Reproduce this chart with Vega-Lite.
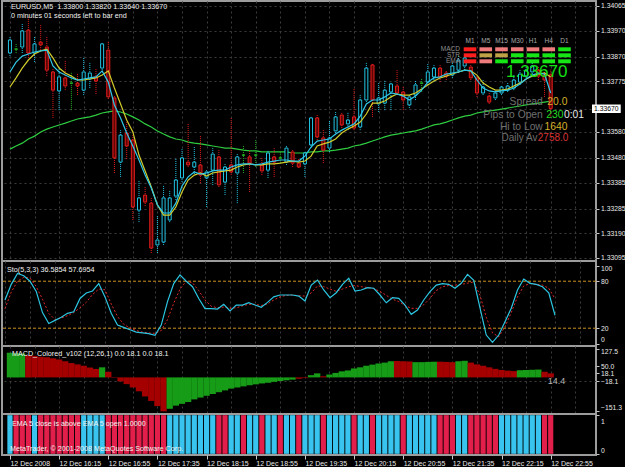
{
  "$schema": "https://vega.github.io/schema/vega-lite/v6.json",
  "background": "#000000",
  "padding": 0,
  "spacing": 0,
  "bounds": "flush",
  "config": {
    "view": {"stroke": "#9C9C9C", "strokeWidth": 2},
    "font": "Liberation Sans",
    "axis": {"labelFont": "Liberation Sans", "labelFontSize": 6.8, "labelColor": "#E8E8E8", "tickColor": "#C8C8C8", "tickWidth": 1, "domain": false, "labelFlush": false, "labelOverlap": false, "gridColor": "#3C3C3C", "gridDash": [2, 3], "gridWidth": 1},
    "text": {"font": "Liberation Sans"}
  },
  "datasets": {
    "bars": [
      {"t":"2008-12-12T15:35:00Z","open":1.33884,"high":1.33949,"low":1.33872,"close":1.33934,"emaFast":1.33811,"emaMid":1.33753,"maSlow":1.33514,"stoK":56,"stoD":45,"macd":110,"macdDir":"up","above":1},
      {"t":"2008-12-12T15:40:00Z","open":1.33899,"high":1.33922,"low":1.33884,"close":1.33899,"emaFast":1.33849,"emaMid":1.33788,"maSlow":1.33526,"stoK":76,"stoD":66,"macd":108,"macdDir":"up","above":0},
      {"t":"2008-12-12T15:45:00Z","open":1.33907,"high":1.33999,"low":1.33884,"close":1.33969,"emaFast":1.33872,"emaMid":1.33826,"maSlow":1.33537,"stoK":90,"stoD":80,"macd":106,"macdDir":"up","above":0},
      {"t":"2008-12-12T15:50:00Z","open":1.33972,"high":1.34023,"low":1.33865,"close":1.33884,"emaFast":1.33880,"emaMid":1.33857,"maSlow":1.33553,"stoK":87,"stoD":85,"macd":99,"macdDir":"dn","above":0},
      {"t":"2008-12-12T15:55:00Z","open":1.33884,"high":1.33946,"low":1.33849,"close":1.33919,"emaFast":1.33888,"emaMid":1.33880,"maSlow":1.33564,"stoK":80,"stoD":84,"macd":96,"macdDir":"dn","above":1},
      {"t":"2008-12-12T16:00:00Z","open":1.33926,"high":1.33992,"low":1.33895,"close":1.33915,"emaFast":1.33892,"emaMid":1.33892,"maSlow":1.33580,"stoK":67,"stoD":73,"macd":92,"macdDir":"dn","above":0},
      {"t":"2008-12-12T16:05:00Z","open":1.33907,"high":1.33949,"low":1.33795,"close":1.33818,"emaFast":1.33895,"emaMid":1.33899,"maSlow":1.33591,"stoK":40,"stoD":57,"macd":90,"macdDir":"dn","above":0},
      {"t":"2008-12-12T16:10:00Z","open":1.33811,"high":1.33826,"low":1.33634,"close":1.33741,"emaFast":1.33834,"emaMid":1.33865,"maSlow":1.33599,"stoK":26,"stoD":39,"macd":85,"macdDir":"dn","above":0},
      {"t":"2008-12-12T16:15:00Z","open":1.33738,"high":1.33826,"low":1.33664,"close":1.33792,"emaFast":1.33811,"emaMid":1.33826,"maSlow":1.33607,"stoK":30,"stoD":31,"macd":80,"macdDir":"dn","above":0},
      {"t":"2008-12-12T16:20:00Z","open":1.33788,"high":1.33857,"low":1.33741,"close":1.33757,"emaFast":1.33799,"emaMid":1.33807,"maSlow":1.33614,"stoK":34,"stoD":33,"macd":72,"macdDir":"dn","above":0},
      {"t":"2008-12-12T16:25:00Z","open":1.33768,"high":1.33811,"low":1.33664,"close":1.33768,"emaFast":1.33788,"emaMid":1.33795,"maSlow":1.33622,"stoK":39,"stoD":36,"macd":64,"macdDir":"dn","above":0},
      {"t":"2008-12-12T16:30:00Z","open":1.33768,"high":1.33807,"low":1.33722,"close":1.33757,"emaFast":1.33780,"emaMid":1.33780,"maSlow":1.33630,"stoK":41,"stoD":40,"macd":58,"macdDir":"dn","above":0},
      {"t":"2008-12-12T16:35:00Z","open":1.33741,"high":1.33869,"low":1.33722,"close":1.33811,"emaFast":1.33784,"emaMid":1.33780,"maSlow":1.33634,"stoK":58,"stoD":46,"macd":52,"macdDir":"dn","above":1},
      {"t":"2008-12-12T16:40:00Z","open":1.33784,"high":1.33845,"low":1.33749,"close":1.33807,"emaFast":1.33788,"emaMid":1.33784,"maSlow":1.33638,"stoK":65,"stoD":53,"macd":44,"macdDir":"dn","above":1},
      {"t":"2008-12-12T16:45:00Z","open":1.33792,"high":1.33826,"low":1.33726,"close":1.33776,"emaFast":1.33792,"emaMid":1.33788,"maSlow":1.33645,"stoK":67.5,"stoD":63,"macd":38,"macdDir":"dn","above":1},
      {"t":"2008-12-12T16:50:00Z","open":1.33826,"high":1.33926,"low":1.33811,"close":1.33919,"emaFast":1.33815,"emaMid":1.33799,"maSlow":1.33653,"stoK":77,"stoD":70,"macd":45,"macdDir":"up","above":1},
      {"t":"2008-12-12T16:55:00Z","open":1.33895,"high":1.33930,"low":1.33707,"close":1.33715,"emaFast":1.33772,"emaMid":1.33815,"maSlow":1.33657,"stoK":60,"stoD":69,"macd":25,"macdDir":"dn","above":0},
      {"t":"2008-12-12T17:00:00Z","open":1.33711,"high":1.33718,"low":1.33422,"close":1.33480,"emaFast":1.33684,"emaMid":1.33749,"maSlow":1.33661,"stoK":39,"stoD":51,"macd":-2,"macdDir":"dn","above":0},
      {"t":"2008-12-12T17:05:00Z","open":1.33464,"high":1.33587,"low":1.33407,"close":1.33568,"emaFast":1.33634,"emaMid":1.33688,"maSlow":1.33657,"stoK":24,"stoD":35,"macd":-18,"macdDir":"dn","above":0},
      {"t":"2008-12-12T17:10:00Z","open":1.33576,"high":1.33618,"low":1.33476,"close":1.33526,"emaFast":1.33576,"emaMid":1.33626,"maSlow":1.33649,"stoK":21,"stoD":25,"macd":-30,"macdDir":"dn","above":0},
      {"t":"2008-12-12T17:15:00Z","open":1.33549,"high":1.33568,"low":1.33241,"close":1.33291,"emaFast":1.33526,"emaMid":1.33580,"maSlow":1.33638,"stoK":18,"stoD":20,"macd":-45,"macdDir":"dn","above":0},
      {"t":"2008-12-12T17:20:00Z","open":1.33279,"high":1.33395,"low":1.33233,"close":1.33326,"emaFast":1.33472,"emaMid":1.33491,"maSlow":1.33626,"stoK":15,"stoD":17,"macd":-62,"macdDir":"dn","above":0},
      {"t":"2008-12-12T17:25:00Z","open":1.33337,"high":1.33368,"low":1.33295,"close":1.33310,"emaFast":1.33414,"emaMid":1.33430,"maSlow":1.33611,"stoK":14,"stoD":15,"macd":-85,"macdDir":"dn","above":0},
      {"t":"2008-12-12T17:30:00Z","open":1.33306,"high":1.33326,"low":1.33114,"close":1.33133,"emaFast":1.33364,"emaMid":1.33368,"maSlow":1.33599,"stoK":13,"stoD":14,"macd":-105,"macdDir":"dn","above":0},
      {"t":"2008-12-12T17:35:00Z","open":1.33145,"high":1.33260,"low":1.33114,"close":1.33164,"emaFast":1.33299,"emaMid":1.33299,"maSlow":1.33584,"stoK":11,"stoD":13.5,"macd":-128,"macdDir":"dn","above":0},
      {"t":"2008-12-12T17:40:00Z","open":1.33156,"high":1.33376,"low":1.33145,"close":1.33326,"emaFast":1.33268,"emaMid":1.33260,"maSlow":1.33572,"stoK":24,"stoD":17,"macd":-151.3,"macdDir":"dn","above":0},
      {"t":"2008-12-12T17:45:00Z","open":1.33241,"high":1.33356,"low":1.33233,"close":1.33326,"emaFast":1.33268,"emaMid":1.33260,"maSlow":1.33561,"stoK":54,"stoD":31,"macd":-140,"macdDir":"up","above":1},
      {"t":"2008-12-12T17:50:00Z","open":1.33333,"high":1.33480,"low":1.33318,"close":1.33395,"emaFast":1.33306,"emaMid":1.33291,"maSlow":1.33553,"stoK":77,"stoD":52,"macd":-126,"macdDir":"up","above":1},
      {"t":"2008-12-12T17:55:00Z","open":1.33403,"high":1.33518,"low":1.33387,"close":1.33480,"emaFast":1.33372,"emaMid":1.33349,"maSlow":1.33549,"stoK":88,"stoD":70,"macd":-118,"macdDir":"up","above":1},
      {"t":"2008-12-12T18:00:00Z","open":1.33464,"high":1.33614,"low":1.33445,"close":1.33453,"emaFast":1.33407,"emaMid":1.33395,"maSlow":1.33541,"stoK":80,"stoD":80,"macd":-110,"macdDir":"up","above":1},
      {"t":"2008-12-12T18:05:00Z","open":1.33445,"high":1.33522,"low":1.33418,"close":1.33464,"emaFast":1.33426,"emaMid":1.33414,"maSlow":1.33537,"stoK":73,"stoD":78,"macd":-98,"macdDir":"up","above":1},
      {"t":"2008-12-12T18:10:00Z","open":1.33453,"high":1.33568,"low":1.33383,"close":1.33414,"emaFast":1.33418,"emaMid":1.33422,"maSlow":1.33534,"stoK":58,"stoD":68,"macd":-90,"macdDir":"up","above":1},
      {"t":"2008-12-12T18:15:00Z","open":1.33403,"high":1.33433,"low":1.33291,"close":1.33426,"emaFast":1.33422,"emaMid":1.33410,"maSlow":1.33530,"stoK":45,"stoD":56,"macd":-82,"macdDir":"up","above":1},
      {"t":"2008-12-12T18:20:00Z","open":1.33433,"high":1.33518,"low":1.33376,"close":1.33495,"emaFast":1.33430,"emaMid":1.33422,"maSlow":1.33526,"stoK":45,"stoD":48,"macd":-74,"macdDir":"up","above":1},
      {"t":"2008-12-12T18:25:00Z","open":1.33484,"high":1.33510,"low":1.33368,"close":1.33376,"emaFast":1.33433,"emaMid":1.33426,"maSlow":1.33522,"stoK":44.5,"stoD":46,"macd":-66,"macdDir":"up","above":0},
      {"t":"2008-12-12T18:30:00Z","open":1.33387,"high":1.33460,"low":1.33337,"close":1.33445,"emaFast":1.33433,"emaMid":1.33430,"maSlow":1.33518,"stoK":50.5,"stoD":47,"macd":-58,"macdDir":"up","above":0},
      {"t":"2008-12-12T18:35:00Z","open":1.33453,"high":1.33634,"low":1.33414,"close":1.33426,"emaFast":1.33445,"emaMid":1.33433,"maSlow":1.33518,"stoK":42,"stoD":45.5,"macd":-50,"macdDir":"up","above":1},
      {"t":"2008-12-12T18:40:00Z","open":1.33422,"high":1.33495,"low":1.33306,"close":1.33484,"emaFast":1.33453,"emaMid":1.33445,"maSlow":1.33514,"stoK":49.6,"stoD":46,"macd":-45,"macdDir":"up","above":1},
      {"t":"2008-12-12T18:45:00Z","open":1.33491,"high":1.33530,"low":1.33422,"close":1.33491,"emaFast":1.33457,"emaMid":1.33453,"maSlow":1.33510,"stoK":49.6,"stoD":48.5,"macd":-40,"macdDir":"up","above":0},
      {"t":"2008-12-12T18:50:00Z","open":1.33484,"high":1.33510,"low":1.33349,"close":1.33460,"emaFast":1.33457,"emaMid":1.33457,"maSlow":1.33507,"stoK":52.5,"stoD":50.5,"macd":-35,"macdDir":"up","above":1},
      {"t":"2008-12-12T18:55:00Z","open":1.33491,"high":1.33549,"low":1.33445,"close":1.33491,"emaFast":1.33453,"emaMid":1.33453,"maSlow":1.33507,"stoK":49.6,"stoD":50.5,"macd":-31,"macdDir":"up","above":1},
      {"t":"2008-12-12T19:00:00Z","open":1.33453,"high":1.33484,"low":1.33414,"close":1.33430,"emaFast":1.33457,"emaMid":1.33453,"maSlow":1.33503,"stoK":46.7,"stoD":49,"macd":-27,"macdDir":"up","above":0},
      {"t":"2008-12-12T19:05:00Z","open":1.33433,"high":1.33507,"low":1.33403,"close":1.33499,"emaFast":1.33464,"emaMid":1.33457,"maSlow":1.33503,"stoK":53,"stoD":51,"macd":-24,"macdDir":"up","above":1},
      {"t":"2008-12-12T19:10:00Z","open":1.33484,"high":1.33518,"low":1.33407,"close":1.33464,"emaFast":1.33468,"emaMid":1.33457,"maSlow":1.33503,"stoK":60,"stoD":56,"macd":-20,"macdDir":"up","above":1},
      {"t":"2008-12-12T19:15:00Z","open":1.33480,"high":1.33503,"low":1.33460,"close":1.33480,"emaFast":1.33472,"emaMid":1.33460,"maSlow":1.33503,"stoK":62.4,"stoD":60,"macd":-16,"macdDir":"up","above":0},
      {"t":"2008-12-12T19:20:00Z","open":1.33464,"high":1.33526,"low":1.33453,"close":1.33518,"emaFast":1.33472,"emaMid":1.33464,"maSlow":1.33503,"stoK":62.4,"stoD":62,"macd":-13,"macdDir":"up","above":1},
      {"t":"2008-12-12T19:25:00Z","open":1.33503,"high":1.33510,"low":1.33445,"close":1.33460,"emaFast":1.33468,"emaMid":1.33468,"maSlow":1.33499,"stoK":62.4,"stoD":62.4,"macd":-10,"macdDir":"up","above":1},
      {"t":"2008-12-12T19:30:00Z","open":1.33460,"high":1.33480,"low":1.33441,"close":1.33445,"emaFast":1.33468,"emaMid":1.33464,"maSlow":1.33499,"stoK":61,"stoD":61.5,"macd":-6,"macdDir":"dn","above":0},
      {"t":"2008-12-12T19:35:00Z","open":1.33457,"high":1.33507,"low":1.33407,"close":1.33499,"emaFast":1.33487,"emaMid":1.33468,"maSlow":1.33499,"stoK":54.7,"stoD":61,"macd":-3,"macdDir":"dn","above":1},
      {"t":"2008-12-12T19:40:00Z","open":1.33530,"high":1.33638,"low":1.33518,"close":1.33634,"emaFast":1.33522,"emaMid":1.33487,"maSlow":1.33503,"stoK":75,"stoD":65,"macd":10,"macdDir":"up","above":1},
      {"t":"2008-12-12T19:45:00Z","open":1.33634,"high":1.33645,"low":1.33549,"close":1.33561,"emaFast":1.33545,"emaMid":1.33526,"maSlow":1.33503,"stoK":81.5,"stoD":74,"macd":18,"macdDir":"up","above":1},
      {"t":"2008-12-12T19:50:00Z","open":1.33557,"high":1.33587,"low":1.33460,"close":1.33510,"emaFast":1.33549,"emaMid":1.33534,"maSlow":1.33507,"stoK":68.8,"stoD":73,"macd":5,"macdDir":"dn","above":0},
      {"t":"2008-12-12T19:55:00Z","open":1.33518,"high":1.33626,"low":1.33503,"close":1.33557,"emaFast":1.33553,"emaMid":1.33541,"maSlow":1.33507,"stoK":59,"stoD":70,"macd":13,"macdDir":"up","above":1},
      {"t":"2008-12-12T20:00:00Z","open":1.33584,"high":1.33657,"low":1.33568,"close":1.33638,"emaFast":1.33572,"emaMid":1.33553,"maSlow":1.33510,"stoK":65.3,"stoD":67,"macd":20,"macdDir":"up","above":1},
      {"t":"2008-12-12T20:05:00Z","open":1.33645,"high":1.33657,"low":1.33595,"close":1.33607,"emaFast":1.33587,"emaMid":1.33576,"maSlow":1.33514,"stoK":76,"stoD":70,"macd":27,"macdDir":"up","above":1},
      {"t":"2008-12-12T20:10:00Z","open":1.33611,"high":1.33657,"low":1.33587,"close":1.33626,"emaFast":1.33599,"emaMid":1.33591,"maSlow":1.33518,"stoK":83.7,"stoD":73,"macd":31,"macdDir":"up","above":1},
      {"t":"2008-12-12T20:15:00Z","open":1.33638,"high":1.33745,"low":1.33587,"close":1.33595,"emaFast":1.33611,"emaMid":1.33603,"maSlow":1.33526,"stoK":67.5,"stoD":74.5,"macd":40,"macdDir":"up","above":0},
      {"t":"2008-12-12T20:20:00Z","open":1.33599,"high":1.33722,"low":1.33587,"close":1.33703,"emaFast":1.33641,"emaMid":1.33618,"maSlow":1.33530,"stoK":68.8,"stoD":73,"macd":45,"macdDir":"up","above":1},
      {"t":"2008-12-12T20:25:00Z","open":1.33703,"high":1.33845,"low":1.33695,"close":1.33826,"emaFast":1.33688,"emaMid":1.33649,"maSlow":1.33537,"stoK":71.7,"stoD":72,"macd":52,"macdDir":"up","above":1},
      {"t":"2008-12-12T20:30:00Z","open":1.33838,"high":1.33845,"low":1.33638,"close":1.33703,"emaFast":1.33703,"emaMid":1.33691,"maSlow":1.33545,"stoK":71,"stoD":70.5,"macd":57,"macdDir":"up","above":0},
      {"t":"2008-12-12T20:35:00Z","open":1.33688,"high":1.33768,"low":1.33657,"close":1.33711,"emaFast":1.33703,"emaMid":1.33691,"maSlow":1.33553,"stoK":62.4,"stoD":67,"macd":62,"macdDir":"up","above":1},
      {"t":"2008-12-12T20:40:00Z","open":1.33691,"high":1.33780,"low":1.33664,"close":1.33741,"emaFast":1.33715,"emaMid":1.33699,"maSlow":1.33561,"stoK":52.5,"stoD":62,"macd":66,"macdDir":"up","above":1},
      {"t":"2008-12-12T20:45:00Z","open":1.33734,"high":1.33772,"low":1.33664,"close":1.33765,"emaFast":1.33730,"emaMid":1.33715,"maSlow":1.33568,"stoK":59,"stoD":57,"macd":72,"macdDir":"up","above":1},
      {"t":"2008-12-12T20:50:00Z","open":1.33757,"high":1.33818,"low":1.33722,"close":1.33730,"emaFast":1.33726,"emaMid":1.33726,"maSlow":1.33572,"stoK":58.2,"stoD":54,"macd":73,"macdDir":"dn","above":1},
      {"t":"2008-12-12T20:55:00Z","open":1.33734,"high":1.33757,"low":1.33664,"close":1.33703,"emaFast":1.33718,"emaMid":1.33722,"maSlow":1.33576,"stoK":49.6,"stoD":49,"macd":72,"macdDir":"dn","above":0},
      {"t":"2008-12-12T21:00:00Z","open":1.33684,"high":1.33722,"low":1.33672,"close":1.33715,"emaFast":1.33703,"emaMid":1.33722,"maSlow":1.33580,"stoK":37.7,"stoD":45.4,"macd":71,"macdDir":"dn","above":1},
      {"t":"2008-12-12T21:05:00Z","open":1.33722,"high":1.33780,"low":1.33703,"close":1.33761,"emaFast":1.33718,"emaMid":1.33730,"maSlow":1.33584,"stoK":43.2,"stoD":45.4,"macd":68,"macdDir":"up","above":1},
      {"t":"2008-12-12T21:10:00Z","open":1.33768,"high":1.33788,"low":1.33734,"close":1.33768,"emaFast":1.33741,"emaMid":1.33745,"maSlow":1.33591,"stoK":56,"stoD":50,"macd":68,"macdDir":"up","above":1},
      {"t":"2008-12-12T21:15:00Z","open":1.33772,"high":1.33845,"low":1.33761,"close":1.33811,"emaFast":1.33772,"emaMid":1.33761,"maSlow":1.33599,"stoK":66.6,"stoD":58,"macd":69,"macdDir":"up","above":1},
      {"t":"2008-12-12T21:20:00Z","open":1.33792,"high":1.33838,"low":1.33772,"close":1.33826,"emaFast":1.33788,"emaMid":1.33776,"maSlow":1.33607,"stoK":75,"stoD":68,"macd":70,"macdDir":"up","above":1},
      {"t":"2008-12-12T21:25:00Z","open":1.33826,"high":1.33838,"low":1.33772,"close":1.33792,"emaFast":1.33792,"emaMid":1.33788,"maSlow":1.33611,"stoK":76.8,"stoD":73,"macd":70,"macdDir":"dn","above":0},
      {"t":"2008-12-12T21:30:00Z","open":1.33807,"high":1.33818,"low":1.33780,"close":1.33795,"emaFast":1.33803,"emaMid":1.33795,"maSlow":1.33618,"stoK":76,"stoD":74.5,"macd":69,"macdDir":"dn","above":0},
      {"t":"2008-12-12T21:35:00Z","open":1.33799,"high":1.33849,"low":1.33788,"close":1.33834,"emaFast":1.33807,"emaMid":1.33803,"maSlow":1.33626,"stoK":71,"stoD":75,"macd":68,"macdDir":"dn","above":0},
      {"t":"2008-12-12T21:40:00Z","open":1.33818,"high":1.33876,"low":1.33807,"close":1.33857,"emaFast":1.33811,"emaMid":1.33811,"maSlow":1.33634,"stoK":77.3,"stoD":76,"macd":72,"macdDir":"up","above":1},
      {"t":"2008-12-12T21:45:00Z","open":1.33834,"high":1.33876,"low":1.33818,"close":1.33865,"emaFast":1.33818,"emaMid":1.33818,"maSlow":1.33641,"stoK":88.8,"stoD":77.5,"macd":74,"macdDir":"up","above":1},
      {"t":"2008-12-12T21:50:00Z","open":1.33830,"high":1.33842,"low":1.33780,"close":1.33788,"emaFast":1.33815,"emaMid":1.33815,"maSlow":1.33645,"stoK":81,"stoD":79,"macd":66,"macdDir":"dn","above":0},
      {"t":"2008-12-12T21:55:00Z","open":1.33788,"high":1.33795,"low":1.33715,"close":1.33730,"emaFast":1.33780,"emaMid":1.33799,"maSlow":1.33653,"stoK":46,"stoD":62,"macd":58,"macdDir":"dn","above":0},
      {"t":"2008-12-12T22:00:00Z","open":1.33730,"high":1.33780,"low":1.33722,"close":1.33753,"emaFast":1.33749,"emaMid":1.33768,"maSlow":1.33657,"stoK":11.3,"stoD":34,"macd":52,"macdDir":"dn","above":0},
      {"t":"2008-12-12T22:05:00Z","open":1.33718,"high":1.33730,"low":1.33688,"close":1.33695,"emaFast":1.33738,"emaMid":1.33753,"maSlow":1.33661,"stoK":2,"stoD":14,"macd":45,"macdDir":"dn","above":0},
      {"t":"2008-12-12T22:10:00Z","open":1.33711,"high":1.33741,"low":1.33703,"close":1.33730,"emaFast":1.33734,"emaMid":1.33741,"maSlow":1.33664,"stoK":11.3,"stoD":9,"macd":38,"macdDir":"dn","above":0},
      {"t":"2008-12-12T22:15:00Z","open":1.33730,"high":1.33761,"low":1.33722,"close":1.33753,"emaFast":1.33738,"emaMid":1.33741,"maSlow":1.33668,"stoK":28.3,"stoD":22,"macd":33,"macdDir":"dn","above":1},
      {"t":"2008-12-12T22:20:00Z","open":1.33741,"high":1.33772,"low":1.33734,"close":1.33757,"emaFast":1.33741,"emaMid":1.33745,"maSlow":1.33672,"stoK":45.4,"stoD":40,"macd":30,"macdDir":"dn","above":1},
      {"t":"2008-12-12T22:25:00Z","open":1.33749,"high":1.33799,"low":1.33741,"close":1.33780,"emaFast":1.33749,"emaMid":1.33757,"maSlow":1.33676,"stoK":68.8,"stoD":60,"macd":28,"macdDir":"dn","above":1},
      {"t":"2008-12-12T22:30:00Z","open":1.33772,"high":1.33818,"low":1.33761,"close":1.33803,"emaFast":1.33765,"emaMid":1.33768,"maSlow":1.33680,"stoK":82.8,"stoD":74,"macd":32,"macdDir":"up","above":1},
      {"t":"2008-12-12T22:35:00Z","open":1.33795,"high":1.33834,"low":1.33788,"close":1.33818,"emaFast":1.33784,"emaMid":1.33784,"maSlow":1.33684,"stoK":77.3,"stoD":77,"macd":33,"macdDir":"up","above":1},
      {"t":"2008-12-12T22:40:00Z","open":1.33811,"high":1.33849,"low":1.33803,"close":1.33834,"emaFast":1.33799,"emaMid":1.33795,"maSlow":1.33688,"stoK":76,"stoD":76,"macd":34,"macdDir":"up","above":1},
      {"t":"2008-12-12T22:45:00Z","open":1.33818,"high":1.33834,"low":1.33780,"close":1.33795,"emaFast":1.33807,"emaMid":1.33803,"maSlow":1.33691,"stoK":73,"stoD":75,"macd":35,"macdDir":"up","above":1},
      {"t":"2008-12-12T22:50:00Z","open":1.33799,"high":1.33811,"low":1.33715,"close":1.33780,"emaFast":1.33803,"emaMid":1.33807,"maSlow":1.33695,"stoK":65.3,"stoD":71,"macd":25,"macdDir":"dn","above":0},
      {"t":"2008-12-12T22:55:00Z","open":1.33800,"high":1.33820,"low":1.33640,"close":1.33670,"emaFast":1.33730,"emaMid":1.33792,"maSlow":1.33699,"stoK":36.5854,"stoD":57.6954,"macd":18.1,"macdDir":"dn","above":0}
    ],
    "dash": [
      {"tf":"M1","ind":"MACD","st":"strongdn"},{"tf":"M5","ind":"MACD","st":"dn"},{"tf":"M15","ind":"MACD","st":"dn"},{"tf":"M30","ind":"MACD","st":"dn"},{"tf":"H1","ind":"MACD","st":"dn"},{"tf":"H4","ind":"MACD","st":"dn"},{"tf":"D1","ind":"MACD","st":"up"},
      {"tf":"M1","ind":"STR","st":"strongdn"},{"tf":"M5","ind":"STR","st":"flat"},{"tf":"M15","ind":"STR","st":"flat"},{"tf":"M30","ind":"STR","st":"up"},{"tf":"H1","ind":"STR","st":"up"},{"tf":"H4","ind":"STR","st":"up"},{"tf":"D1","ind":"STR","st":"up"},
      {"tf":"M1","ind":"EMA","st":"strongdn"},{"tf":"M5","ind":"EMA","st":"dn"},{"tf":"M15","ind":"EMA","st":"up"},{"tf":"M30","ind":"EMA","st":"up"},{"tf":"H1","ind":"EMA","st":"up"},{"tf":"H4","ind":"EMA","st":"up"},{"tf":"D1","ind":"EMA","st":"up"}
    ]
  },
  "resolve": {"scale": {"x": "independent", "y": "independent"}},
  "vconcat": [
    {
      "width": 594,
      "height": 260,
      "resolve": {"scale": {"x": "independent", "y": "independent"}},
      "layer": [
        {
          "layer": [
            {"data": {"name": "bars"}, "mark": {"type": "line", "stroke": "#2ECC40", "strokeWidth": 1.2},
             "encoding": {"x": {"field": "t", "type": "temporal", "scale": {"type": "utc", "domain": [1229095956000, 1229124468000], "nice": false},
                                "axis": {"title": null, "values": [1229096100000,1229097300000,1229098500000,1229099700000,1229100900000,1229102100000,1229103300000,1229104500000,1229105700000,1229106900000,1229108100000,1229109300000,1229110500000,1229111700000,1229112900000,1229114100000,1229115300000,1229116500000,1229117700000,1229118900000,1229120100000,1229121300000,1229122500000,1229123700000], "tickCount": 100, "labels": false, "ticks": false, "grid": true}},
                          "y": {"field": "maSlow", "type": "quantitative", "scale": {"domain": [1.330832, 1.340842], "nice": false, "zero": false},
                                "axis": {"orient": "right", "title": null, "values": [1.34065, 1.3397, 1.3387, 1.33775, 1.3367, 1.3358, 1.3348, 1.33385, 1.33285, 1.3319, 1.33095], "tickCount": 50, "grid": true, "tickSize": 3, "labelPadding": 1.5, "labelOverlap": false,
                                         "labelExpr": "datum.value == 1.3367 ? '' : format(datum.value, '.5f')"}}}},
            {"data": {"name": "bars"}, "mark": {"type": "rule", "strokeWidth": 1, "strokeDash": [1, 1]},
             "encoding": {"x": {"field": "t", "type": "temporal"}, "y": {"field": "low", "type": "quantitative"}, "y2": {"field": "high"},
                          "stroke": {"condition": [{"test": "datum.close > datum.open", "value": "#22C4E4"}, {"test": "datum.close < datum.open", "value": "#E81C1C"}], "value": "#22B422"}}},
            {"data": {"name": "bars"}, "mark": {"type": "bar", "size": 3, "strokeWidth": 1},
             "encoding": {"x": {"field": "t", "type": "temporal"}, "y": {"field": "open", "type": "quantitative"}, "y2": {"field": "close"},
                          "stroke": {"condition": [{"test": "datum.close > datum.open", "value": "#22C4E4"}, {"test": "datum.close < datum.open", "value": "#E81C1C"}], "value": "#22B422"},
                          "fill": {"condition": [{"test": "datum.close > datum.open", "value": "#000000"}, {"test": "datum.close < datum.open", "value": "#5C0606"}], "value": "#22B422"}}},
            {"data": {"name": "bars"}, "mark": {"type": "line", "stroke": "#D2CC2C", "strokeWidth": 1.2}, "encoding": {"x": {"field": "t", "type": "temporal"}, "y": {"field": "emaMid", "type": "quantitative"}}},
            {"data": {"name": "bars"}, "mark": {"type": "line", "stroke": "#30C8E8", "strokeWidth": 1.2}, "encoding": {"x": {"field": "t", "type": "temporal"}, "y": {"field": "emaFast", "type": "quantitative"}}},
            {"data": {"values": [{}]}, "mark": {"type": "text", "text": "EURUSD,M5\u00a0 1.33800 1.33820 1.33640 1.33670", "align": "left", "baseline": "middle", "fontSize": 7.2, "color": "#F2F2F2"},
             "encoding": {"x": {"datum": {"year": 2008, "month": 12, "date": 12, "hours": 15, "minutes": 35, "seconds": 48, "utc": true}, "type": "temporal"}, "y": {"datum": 1.340611, "type": "quantitative"}}},
            {"data": {"values": [{}]}, "mark": {"type": "text", "text": "0 minutes 01 seconds left to bar end", "align": "left", "baseline": "middle", "fontSize": 7.2, "color": "#F2F2F2"},
             "encoding": {"x": {"datum": {"year": 2008, "month": 12, "date": 12, "hours": 15, "minutes": 35, "seconds": 48, "utc": true}, "type": "temporal"}, "y": {"datum": 1.340264, "type": "quantitative"}}},
            {"data": {"values": [{}]}, "mark": {"type": "text", "text": "1.33670", "align": "right", "baseline": "middle", "fontSize": 17, "color": "#14E014"},
             "encoding": {"x": {"datum": {"year": 2008, "month": 12, "date": 12, "hours": 23, "minutes": 8, "seconds": 36, "utc": true}, "type": "temporal"}, "y": {"datum": 1.338108, "type": "quantitative"}}},
            {"data": {"values": [{}]}, "mark": {"type": "text", "text": "Spread", "align": "right", "baseline": "middle", "fontSize": 10.3, "color": "#707070"},
             "encoding": {"x": {"datum": {"year": 2008, "month": 12, "date": 12, "hours": 22, "minutes": 48, "seconds": 36, "utc": true}, "type": "temporal"}, "y": {"datum": 1.336953, "type": "quantitative"}}},
            {"data": {"values": [{}]}, "mark": {"type": "text", "text": "20.0", "align": "right", "baseline": "middle", "fontSize": 10.3, "color": "#D8B028"},
             "encoding": {"x": {"datum": {"year": 2008, "month": 12, "date": 12, "hours": 23, "minutes": 8, "seconds": 36, "utc": true}, "type": "temporal"}, "y": {"datum": 1.336953, "type": "quantitative"}}},
            {"data": {"values": [{}]}, "mark": {"type": "text", "text": "Pips to Open", "align": "right", "baseline": "middle", "fontSize": 10.3, "color": "#707070"},
             "encoding": {"x": {"datum": {"year": 2008, "month": 12, "date": 12, "hours": 22, "minutes": 48, "seconds": 36, "utc": true}, "type": "temporal"}, "y": {"datum": 1.336453, "type": "quantitative"}}},
            {"data": {"values": [{}]}, "mark": {"type": "text", "text": "230", "align": "right", "baseline": "middle", "fontSize": 10.3, "color": "#22DD22"},
             "encoding": {"x": {"datum": {"year": 2008, "month": 12, "date": 12, "hours": 23, "minutes": 5, "seconds": 24, "utc": true}, "type": "temporal"}, "y": {"datum": 1.336453, "type": "quantitative"}}},
            {"data": {"values": [{}]}, "mark": {"type": "text", "text": "0:01", "align": "left", "baseline": "middle", "fontSize": 10.3, "color": "#E8E8E8"},
             "encoding": {"x": {"datum": {"year": 2008, "month": 12, "date": 12, "hours": 23, "minutes": 5, "seconds": 48, "utc": true}, "type": "temporal"}, "y": {"datum": 1.336453, "type": "quantitative"}}},
            {"data": {"values": [{}]}, "mark": {"type": "text", "text": "Hi to Low", "align": "right", "baseline": "middle", "fontSize": 10.3, "color": "#707070"},
             "encoding": {"x": {"datum": {"year": 2008, "month": 12, "date": 12, "hours": 22, "minutes": 48, "seconds": 36, "utc": true}, "type": "temporal"}, "y": {"datum": 1.33601, "type": "quantitative"}}},
            {"data": {"values": [{}]}, "mark": {"type": "text", "text": "1640", "align": "right", "baseline": "middle", "fontSize": 10.3, "color": "#D8B028"},
             "encoding": {"x": {"datum": {"year": 2008, "month": 12, "date": 12, "hours": 23, "minutes": 8, "seconds": 36, "utc": true}, "type": "temporal"}, "y": {"datum": 1.33601, "type": "quantitative"}}},
            {"data": {"values": [{}]}, "mark": {"type": "text", "text": "Daily Av", "align": "right", "baseline": "middle", "fontSize": 10, "color": "#707070"},
             "encoding": {"x": {"datum": {"year": 2008, "month": 12, "date": 12, "hours": 22, "minutes": 44, "seconds": 12, "utc": true}, "type": "temporal"}, "y": {"datum": 1.335586, "type": "quantitative"}}},
            {"data": {"values": [{}]}, "mark": {"type": "text", "text": "2758.0", "align": "right", "baseline": "middle", "fontSize": 10, "color": "#D83434"},
             "encoding": {"x": {"datum": {"year": 2008, "month": 12, "date": 12, "hours": 23, "minutes": 9, "seconds": 24, "utc": true}, "type": "temporal"}, "y": {"datum": 1.335586, "type": "quantitative"}}},
            {"data": {"values": [{}]}, "mark": {"type": "rect", "fill": "#FFFFFF"},
             "encoding": {"x": {"datum": {"year": 2008, "month": 12, "date": 12, "hours": 23, "minutes": 28, "seconds": 36, "utc": true}, "type": "temporal"},
                          "x2": {"datum": {"year": 2008, "month": 12, "date": 12, "hours": 23, "minutes": 52, "seconds": 0, "utc": true}},
                          "y": {"datum": 1.336857, "type": "quantitative"}, "y2": {"datum": 1.33653}}},
            {"data": {"values": [{}]}, "mark": {"type": "text", "text": "1.33670", "align": "center", "baseline": "middle", "fontSize": 6.8, "color": "#000000"},
             "encoding": {"x": {"datum": {"year": 2008, "month": 12, "date": 12, "hours": 23, "minutes": 40, "seconds": 12, "utc": true}, "type": "temporal"}, "y": {"datum": 1.3367, "type": "quantitative"}}}
          ]
        },
        {
          "data": {"name": "dash"},
          "layer": [
            {"mark": {"type": "rect"},
             "encoding": {
               "x": {"field": "tf", "type": "ordinal", "scale": {"domain": ["M1","M5","M15","M30","H1","H4","D1"], "range": [461.7, 568.8], "paddingInner": 0.2, "paddingOuter": 0, "round": false}, "axis": null},
               "y": {"field": "ind", "type": "ordinal", "scale": {"domain": ["MACD","STR","EMA"], "range": [46.3, 62.3], "paddingInner": 0.3333, "paddingOuter": 0, "round": false}, "axis": null},
               "fill": {"condition": [{"test": "datum.st == 'strongdn'", "value": "#FF1E1E"}, {"test": "datum.st == 'dn'", "value": "#EE7C7C"}, {"test": "datum.st == 'flat'", "value": "#BFA246"}], "value": "#16E616"}
             }},
            {"transform": [{"filter": "datum.ind == 'MACD'"}],
             "mark": {"type": "text", "dy": -8, "fontSize": 6.5, "color": "#A8A8A8", "baseline": "middle", "align": "center"},
             "encoding": {"x": {"field": "tf", "type": "ordinal"}, "y": {"datum": "MACD", "type": "ordinal"}, "text": {"field": "tf"}}},
            {"transform": [{"filter": "datum.tf == 'M1'"}],
             "mark": {"type": "text", "dx": -10, "align": "right", "fontSize": 6.5, "color": "#909090", "baseline": "middle"},
             "encoding": {"x": {"datum": "M1", "type": "ordinal"}, "y": {"field": "ind", "type": "ordinal"}, "text": {"field": "ind"}}}
          ]
        }
      ]
    },
    {
      "width": 594,
      "height": 85,
      "layer": [
        {"data": {"name": "bars"}, "mark": {"type": "line", "stroke": "#2CC6E2", "strokeWidth": 1.2, "opacity": 0},
         "encoding": {"x": {"field": "t", "type": "temporal", "scale": {"type": "utc", "domain": [1229095956000, 1229124468000], "nice": false},
                            "axis": {"title": null, "values": [1229096100000,1229097300000,1229098500000,1229099700000,1229100900000,1229102100000,1229103300000,1229104500000,1229105700000,1229106900000,1229108100000,1229109300000,1229110500000,1229111700000,1229112900000,1229114100000,1229115300000,1229116500000,1229117700000,1229118900000,1229120100000,1229121300000,1229122500000,1229123700000], "tickCount": 100, "labels": false, "ticks": false, "grid": true}},
                      "y": {"field": "stoK", "type": "quantitative", "scale": {"domain": [-2.7, 105.8], "nice": false, "zero": false},
                            "axis": {"orient": "right", "title": null, "values": [0, 20, 80, 100], "tickCount": 50, "grid": false, "tickSize": 3, "labelPadding": 1.5, "labelOverlap": false,
                                     "labelBaseline": {"condition": {"test": "datum.value == 100", "value": "top"}, "value": "middle"},
                                     "labelOffset": {"condition": {"test": "datum.value == 0", "value": -4}, "value": 0}}}}},
        {"data": {"values": [{}]}, "mark": {"type": "rule", "stroke": "#C8901E", "strokeDash": [3, 2], "strokeWidth": 1},
         "encoding": {"y": {"datum": 80, "type": "quantitative"}}},
        {"data": {"values": [{}]}, "mark": {"type": "rule", "stroke": "#C8901E", "strokeDash": [3, 2], "strokeWidth": 1},
         "encoding": {"y": {"datum": 20, "type": "quantitative"}}},
        {"data": {"name": "bars"}, "mark": {"type": "line", "stroke": "#E02828", "strokeWidth": 1, "strokeDash": [2, 2]},
         "encoding": {"x": {"field": "t", "type": "temporal"}, "y": {"field": "stoD", "type": "quantitative"}}},
        {"data": {"name": "bars"}, "mark": {"type": "line", "stroke": "#2CC6E2", "strokeWidth": 1.2},
         "encoding": {"x": {"field": "t", "type": "temporal"}, "y": {"field": "stoK", "type": "quantitative"}}},
        {"data": {"values": [{}]}, "mark": {"type": "text", "text": "Sto(5,3,3) 36.5854 57.6954", "align": "left", "baseline": "middle", "fontSize": 7.2, "color": "#F2F2F2"},
         "encoding": {"x": {"datum": {"year": 2008, "month": 12, "date": 12, "hours": 15, "minutes": 36, "seconds": 36, "utc": true}, "type": "temporal"}, "y": {"datum": 93.7, "type": "quantitative"}}}
      ]
    },
    {
      "width": 594,
      "height": 68,
      "layer": [
        {"data": {"name": "bars"}, "mark": {"type": "bar", "size": 6.3},
         "encoding": {"x": {"field": "t", "type": "temporal", "scale": {"type": "utc", "domain": [1229095956000, 1229124468000], "nice": false},
                            "axis": {"title": null, "values": [1229096100000,1229097300000,1229098500000,1229099700000,1229100900000,1229102100000,1229103300000,1229104500000,1229105700000,1229106900000,1229108100000,1229109300000,1229110500000,1229111700000,1229112900000,1229114100000,1229115300000,1229116500000,1229117700000,1229118900000,1229120100000,1229121300000,1229122500000,1229123700000], "tickCount": 100, "labels": false, "ticks": false, "grid": true}},
                      "y": {"field": "macd", "type": "quantitative", "scale": {"domain": [-163.2, 140], "nice": false, "zero": false},
                            "axis": {"orient": "right", "title": null, "values": [127.5, 50, 18.1, -18.1, -151.3], "tickCount": 50, "format": ".1f", "grid": true, "tickSize": 3, "labelPadding": 1.5, "labelOverlap": false,
                                     "gridOpacity": {"condition": {"test": "datum.value < 0 && datum.value > -100", "value": 1}, "value": 0},
                                     "labelBaseline": {"condition": {"test": "datum.value == 127.5", "value": "top"}, "value": "middle"},
                                     "labelOffset": {"condition": {"test": "datum.value == -151.3", "value": -4}, "value": 0}}},
                      "y2": {"datum": 0},
                      "fill": {"condition": {"test": "datum.macdDir == 'up'", "value": "#169C16"}, "value": "#A40000"}}},
        {"data": {"values": [{}]}, "mark": {"type": "text", "text": "MACD_Colored_v102 (12,26,1) 0.0 18.1 0.0 18.1", "align": "left", "baseline": "middle", "fontSize": 7.2, "color": "#F2F2F2"},
         "encoding": {"x": {"datum": {"year": 2008, "month": 12, "date": 12, "hours": 15, "minutes": 36, "seconds": 36, "utc": true}, "type": "temporal"}, "y": {"datum": 104.3, "type": "quantitative"}}},
        {"data": {"values": [{}]}, "mark": {"type": "text", "text": "14.4", "align": "left", "baseline": "middle", "fontSize": 9, "color": "#B4B4B4"},
         "encoding": {"x": {"datum": {"year": 2008, "month": 12, "date": 12, "hours": 22, "minutes": 52, "seconds": 36, "utc": true}, "type": "temporal"}, "y": {"datum": -13.9, "type": "quantitative"}}}
      ]
    },
    {
      "width": 594,
      "height": 41,
      "layer": [
        {"data": {"name": "bars"}, "mark": {"type": "bar", "size": 5.2},
         "encoding": {"x": {"field": "t", "type": "temporal", "scale": {"type": "utc", "domain": [1229095956000, 1229124468000], "nice": false},
                            "axis": {"title": null, "values": [1229096100000,1229098500000,1229100900000,1229103300000,1229105700000,1229108100000,1229110500000,1229112900000,1229115300000,1229117700000,1229120100000,1229122500000], "tickCount": 100,
                                     "grid": false, "ticks": true, "tickSize": 4, "labelAlign": "left", "labelBaseline": "top", "labelPadding": 0, "labelFontSize": 7, "labelOverlap": false,
                                     "labelExpr": "utcFormat(datum.value, '%H:%M') == '15:35' ? '12 Dec 2008' : utcFormat(datum.value, '%d %b %H:%M')"}},
                      "y": {"datum": 1, "type": "quantitative", "scale": {"domain": [-0.03, 1.03], "nice": false, "zero": false},
                            "axis": {"orient": "right", "title": null, "values": [0, 1], "tickCount": 50, "format": "d", "grid": false, "tickSize": 3, "labelPadding": 1.5, "labelOverlap": false,
                                     "labelBaseline": {"condition": {"test": "datum.value == 0", "value": "bottom"}, "value": "middle"},
                                     "labelOffset": {"condition": {"test": "datum.value == 1", "value": 6}, "value": 0}}},
                      "y2": {"datum": 0},
                      "fill": {"condition": {"test": "datum.above == 1", "value": "#38C4EE"}, "value": "#E21E4A"}}},
        {"data": {"values": [{}]}, "mark": {"type": "text", "text": "EMA 5 close is above EMA 5 open 1.0000", "align": "left", "baseline": "middle", "fontSize": 7.2, "color": "#F2F2F2"},
         "encoding": {"x": {"datum": {"year": 2008, "month": 12, "date": 12, "hours": 15, "minutes": 36, "seconds": 36, "utc": true}, "type": "temporal"}, "y": {"datum": 0.784, "type": "quantitative"}}},
        {"data": {"values": [{}]}, "mark": {"type": "text", "text": "MetaTrader, © 2001-2008 MetaQuotes Software Corp.", "align": "left", "baseline": "middle", "fontSize": 7.2, "color": "#F2F2F2"},
         "encoding": {"x": {"datum": {"year": 2008, "month": 12, "date": 12, "hours": 15, "minutes": 35, "seconds": 0, "utc": true}, "type": "temporal"}, "y": {"datum": 0.125, "type": "quantitative"}}}
      ]
    }
  ]
}
